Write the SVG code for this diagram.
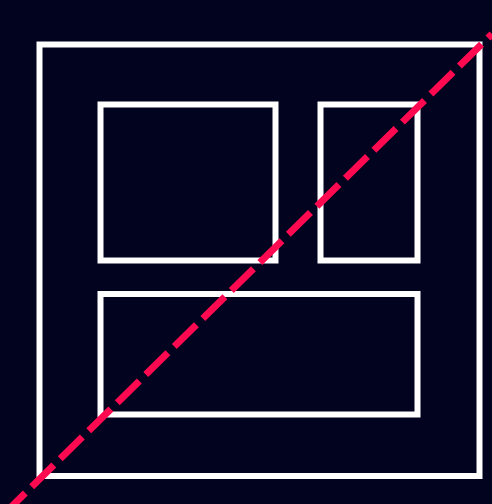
<svg xmlns="http://www.w3.org/2000/svg" width="492" height="504" viewBox="0 0 492 504">
<style>
.box{fill:none;stroke:#ffffff;stroke-width:6}
.cut{stroke:#ff0a50;stroke-width:7;stroke-dasharray:31 9;stroke-dashoffset:-4.5;fill:none}
</style>
<rect x="0" y="0" width="492" height="504" fill="#01031f"/>
<g id="outer"><rect class="box" x="39.5" y="44.5" width="440" height="431.5"/></g>
<g id="panel-top-left"><rect class="box" x="100.5" y="104.5" width="175" height="156"/></g>
<g id="panel-top-right"><rect class="box" x="320.5" y="104.5" width="97" height="156"/></g>
<g id="panel-bottom"><rect class="box" x="100.5" y="294" width="317" height="120.5"/></g>
<g id="connectors"><line class="cut" x1="0" y1="518" x2="492" y2="34"/></g>
</svg>
